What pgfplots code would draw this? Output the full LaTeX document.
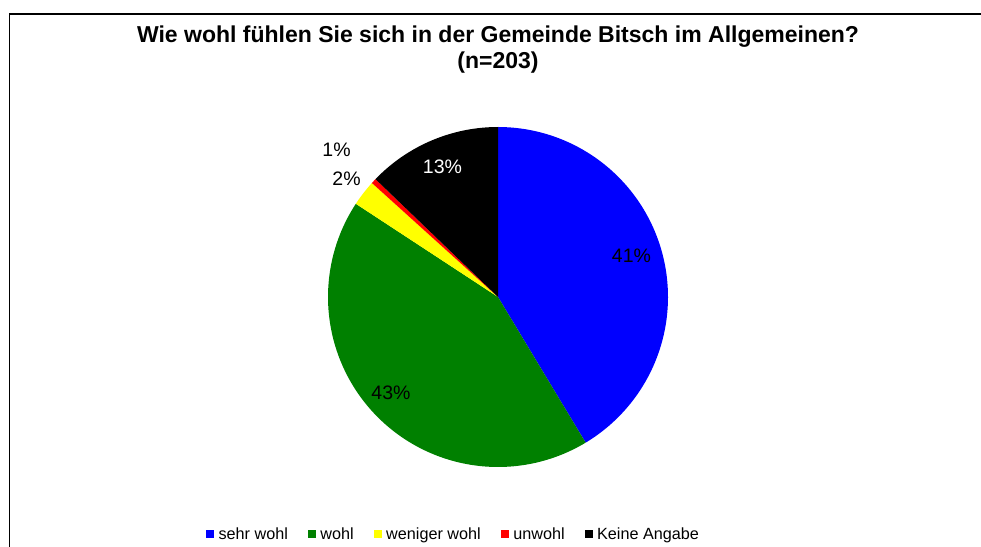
\documentclass[border=0pt]{standalone}
\usepackage{fontspec}
\setmainfont{Liberation Sans}
\usepackage{pgfplots}
\pgfplotsset{compat=1.18}
\definecolor{pieblue}{RGB}{0,0,255}
\definecolor{piegreen}{RGB}{0,128,0}
\definecolor{pieyellow}{RGB}{255,255,0}
\definecolor{piered}{RGB}{255,0,0}

% counts per answer, n = 203
\newcommand{\ntotal}{203}
\def\cum{0}
% \slice{count}{colour}{legend text}
\newcommand{\slice}[3]{%
  \pgfmathsetmacro\a{90-\cum/\ntotal*360}%
  \pgfmathsetmacro\b{90-(\cum+#1)/\ntotal*360}%
  \edef\temp{\noexpand\addplot[fill=#2, draw=none, domain=\a:\b, samples=120]
    ({498+170*cos(x)},{249+170*sin(x)}) -- (axis cs:498,249) -- cycle;}%
  \temp
  \addlegendentry{#3}%
  \pgfmathsetmacro\cum{\cum+#1}%
}

\begin{document}
\begin{tikzpicture}
\begin{axis}[
  scale only axis, width=981pt, height=546pt,
  xmin=0, xmax=981, ymin=0, ymax=546,
  hide axis, clip=false,
  legend columns=-1,
  legend style={draw=none, fill=none, at={(axis cs:453.5,12)}, anchor=center,
    font=\fontsize{16.2}{18}\selectfont,
    /tikz/every odd column/.append style={column sep=2.5pt},
    /tikz/every even column/.append style={column sep=18pt},
    inner sep=0pt},
  legend image code/.code={\fill[#1] (0pt,-4pt) rectangle (8pt,4pt);},
]
\slice{84}{pieblue}{sehr wohl}
\slice{87}{piegreen}{wohl}
\slice{5}{pieyellow}{weniger wohl}
\slice{1}{piered}{unwohl}
\slice{26}{black}{Keine Angabe}
% frame
\draw[line width=1.1pt] (axis cs:9.5,-20) -- (axis cs:9.5,532) -- (axis cs:995,532);
% title
\node[font=\bfseries\fontsize{23}{26}\selectfont, align=center] at (axis cs:498,496)
  {Wie wohl fühlen Sie sich in der Gemeinde Bitsch im Allgemeinen?\\(n=203)};
% data labels
\begin{scope}[every node/.style={font=\fontsize{19.5}{22}\selectfont}]
\node at (axis cs:631.5,290) {41\%};
\node at (axis cs:391,153) {43\%};
\node[text=white] at (axis cs:442.5,379) {13\%};
\node at (axis cs:346.5,367) {2\%};
\node at (axis cs:336.5,396) {1\%};
\end{scope}
\end{axis}
\pgfresetboundingbox
\path (current axis.south west) rectangle (current axis.north east);
\end{tikzpicture}
\end{document}
